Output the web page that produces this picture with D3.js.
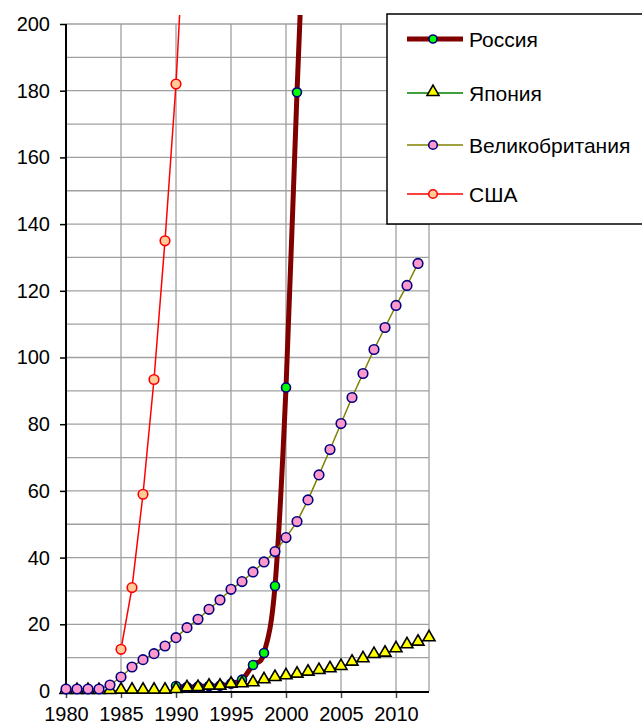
<!DOCTYPE html>
<html>
<head>
<meta charset="utf-8">
<script src="https://cdn.jsdelivr.net/npm/d3@7"></script>
<style>
  html, body { margin: 0; padding: 0; background: #fff; }
  svg { display: block; font-family: "Liberation Sans", Arial, sans-serif; }
</style>
</head>
<body>
<div id="chart"></div>
<script>
"use strict";

// years on the category axis
var years = [1980, 1981, 1982, 1983, 1984, 1985, 1986, 1987, 1988, 1989,
             1990, 1991, 1992, 1993, 1994, 1995, 1996, 1997, 1998, 1999,
             2000, 2001, 2002, 2003, 2004, 2005, 2006, 2007, 2008, 2009,
             2010, 2011, 2012, 2013];

var russia = [null, null, null, null, null, null, null, null, null, null,
              1.5, 1.2, 1.3, 1.5, 1.6, 2.2, 3.4, 7.8, 11.4, 31.5,
              91, 179.5, 260, null, null, null, null, null, null, null,
              null, null, null, null];

var japan = [0, 0, 0, 0, 0, 0.1, 0.1, 0.1, 0.1, 0.1,
             0.3, 0.8, 0.9, 1.3, 1.3, 1.9, 2.0, 2.3, 3.2, 3.9,
             4.4, 4.9, 5.5, 6.0, 6.5, 7.2, 8.5, 9.5, 10.8, 11.2,
             12.5, 13.7, 14.5, 15.8];

var britain = [0.6, 0.6, 0.6, 0.6, 1.8, 4.2, 7.2, 9.4, 11.2, 13.5,
               16, 19, 21.5, 24.5, 27.3, 30.5, 32.8, 35.7, 38.7, 41.8,
               46, 50.8, 57.3, 64.8, 72.4, 80.2, 88, 95.2, 102.4, 109,
               115.6, 121.6, 128.2, null];

var usa = [null, null, null, null, null, 12.5, 31, 59, 93.4, 135,
           182, 245, null, null, null, null, null, null, null, null,
           null, null, null, null, null, null, null, null, null, null,
           null, null, null, null];

var xTickYears = [1980, 1985, 1990, 1995, 2000, 2005, 2010];
var yTicks = [0, 20, 40, 60, 80, 100, 120, 140, 160, 180, 200];
var yGrid = [10, 20, 30, 40, 50, 60, 70, 80, 90, 100, 110, 120, 130, 140, 150, 160, 170, 180, 190, 200];

var seriesNames = ["Россия", "Япония", "Великобритания", "США"];

var width = 642, height = 724;
var font = 20;

var svg = d3.select("#chart").append("svg")
  .attr("width", width).attr("height", height);

var x = d3.scaleLinear().domain([1980, 2013]).range([66, 429]);
var y = d3.scaleLinear().domain([0, 200]).range([691, 24]);

// grid
var grid = svg.append("g").attr("stroke", "#a0a0a0").attr("stroke-width", 1.3);
grid.selectAll("line.h").data(yGrid).enter().append("line")
  .attr("x1", x(1980)).attr("x2", x(2013))
  .attr("y1", function (d) { return y(d); }).attr("y2", function (d) { return y(d); });
grid.selectAll("line.v").data(xTickYears.slice(1).concat([2013])).enter().append("line")
  .attr("x1", function (d) { return x(d); }).attr("x2", function (d) { return x(d); })
  .attr("y1", y(200)).attr("y2", y(0));

// axes
var yAxis = d3.axisLeft(y).tickValues(yTicks).tickSize(6).tickPadding(10);
var yAxisG = svg.append("g").attr("transform", "translate(" + x(1980) + ",0)").call(yAxis);
yAxisG.select(".domain").remove();
yAxisG.selectAll(".tick line").attr("stroke", "#000").attr("stroke-width", 1.5);
yAxisG.selectAll("text").attr("font-size", font).attr("font-family", "Liberation Sans, Arial, sans-serif")
  .attr("fill", "#000");

var xAxis = d3.axisBottom(x).tickValues(xTickYears).tickSize(7).tickFormat(d3.format("d"));
var xAxisG = svg.append("g").attr("transform", "translate(0," + y(0) + ")").call(xAxis);
xAxisG.select(".domain").remove();
xAxisG.selectAll(".tick line").attr("stroke", "#444").attr("stroke-width", 1.5);
xAxisG.selectAll("text").attr("font-size", font).attr("font-family", "Liberation Sans, Arial, sans-serif")
  .attr("fill", "#000").attr("y", 30).attr("dy", 0);

svg.append("line").attr("x1", x(1980)).attr("x2", x(1980))
  .attr("y1", y(200)).attr("y2", y(0) + 1).attr("stroke", "#000").attr("stroke-width", 2);
svg.append("line").attr("x1", x(1980) - 1).attr("x2", x(2013))
  .attr("y1", y(0) + 1).attr("y2", y(0) + 1).attr("stroke", "#000").attr("stroke-width", 2);

// series
svg.append("clipPath").attr("id", "plotclip").append("rect")
  .attr("x", 0).attr("y", 15).attr("width", width).attr("height", height - 15);

var plot = svg.append("g").attr("clip-path", "url(#plotclip)");

function toPoints(values) {
  return years.map(function (yr, i) { return { year: yr, value: values[i] }; })
    .filter(function (d) { return d.value != null; });
}

var series = [
  { name: seriesNames[0], values: toPoints(russia), line: "#800000", lw: 5, curve: d3.curveCatmullRom.alpha(0),
    marker: "circle", fill: "#00ff00", stroke: "#000080", r: 4.5 },
  { name: seriesNames[1], values: toPoints(japan), line: "#008000", lw: 1.5, curve: d3.curveLinear,
    marker: "triangle", fill: "#ffff00", stroke: "#000000", r: 0 },
  { name: seriesNames[2], values: toPoints(britain), line: "#808000", lw: 1.5, curve: d3.curveLinear,
    marker: "circle", fill: "#ff99cc", stroke: "#000080", r: 4.8 },
  { name: seriesNames[3], values: toPoints(usa), line: "#ff0000", lw: 1.5, curve: d3.curveLinear,
    marker: "circle", fill: "#ffcc99", stroke: "#ff0000", r: 4.8 }
];

var triangle = d3.symbol().type(d3.symbolTriangle).size(62);

series.forEach(function (s) {
  var g = plot.append("g");
  var line = d3.line().x(function (d) { return x(d.year); }).y(function (d) { return y(d.value); }).curve(s.curve);
  g.append("path").datum(s.values).attr("d", line)
    .attr("fill", "none").attr("stroke", s.line).attr("stroke-width", s.lw).attr("stroke-linejoin", "round");
  if (s.marker === "circle") {
    g.selectAll("circle").data(s.values).enter().append("circle")
      .attr("cx", function (d) { return x(d.year); })
      .attr("cy", function (d) { return y(d.value); })
      .attr("r", s.r).attr("fill", s.fill).attr("stroke", s.stroke).attr("stroke-width", 1.6);
  } else {
    g.selectAll("path.m").data(s.values).enter().append("path").attr("class", "m")
      .attr("d", triangle)
      .attr("transform", function (d) { return "translate(" + x(d.year) + "," + (y(d.value) - 1) + ")"; })
      .attr("fill", s.fill).attr("stroke", s.stroke).attr("stroke-width", 1.6);
  }
});

// legend
var legend = svg.append("g").attr("transform", "translate(387,14)");
legend.append("rect").attr("x", 0).attr("y", 0).attr("width", 300).attr("height", 210)
  .attr("fill", "#fff").attr("stroke", "#000").attr("stroke-width", 1.5);
var rowY = [25, 79, 131, 180];
series.forEach(function (s, i) {
  var row = legend.append("g").attr("transform", "translate(0," + rowY[i] + ")");
  row.append("line").attr("x1", 20).attr("x2", 76).attr("y1", 0).attr("y2", 0)
    .attr("stroke", s.line).attr("stroke-width", s.lw);
  if (s.marker === "circle") {
    row.append("circle").attr("cx", 46).attr("cy", 0).attr("r", s.r - 0.5)
      .attr("fill", s.fill).attr("stroke", s.stroke).attr("stroke-width", 1.6);
  } else {
    row.append("path").attr("d", triangle).attr("transform", "translate(46,-1)")
      .attr("fill", s.fill).attr("stroke", s.stroke).attr("stroke-width", 1.6);
  }
  row.append("text").attr("x", 82).attr("y", 8).attr("font-size", 21).attr("fill", "#000")
    .text(s.name);
});
</script>
</body>
</html>
